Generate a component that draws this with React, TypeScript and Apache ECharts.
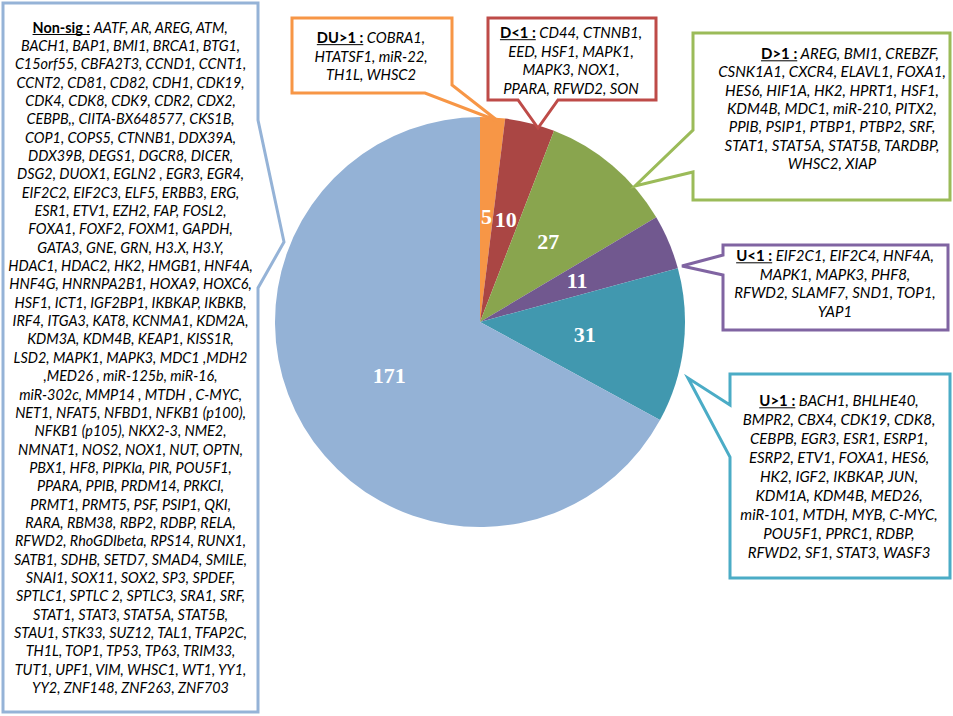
import React, { useEffect, useRef } from "react";
import * as echarts from "echarts";

// ---------- data ----------
const categories = ["DU>1", "D<1", "D>1", "U<1", "U>1", "Non-sig"];
const counts = [5, 10, 27, 11, 31, 171];
const sliceColors = ["#F79646", "#AA4644", "#89A54E", "#71588F", "#4198AF", "#94B2D6"];
const boxColors = ["#F79646", "#BE4B48", "#9BBB59", "#8064A2", "#4BACC6", "#95B3D7"];

const duUpLines = [" COBRA1,", "HTATSF1, miR-22,", "TH1L, WHSC2"];
const dDownLines = [" CD44, CTNNB1,", "EED, HSF1, MAPK1,", "MAPK3, NOX1,", "PPARA, RFWD2, SON"];
const dUpLines = [
  " AREG, BMI1, CREBZF,",
  "CSNK1A1, CXCR4, ELAVL1, FOXA1,",
  "HES6, HIF1A, HK2, HPRT1, HSF1,",
  "KDM4B, MDC1, miR-210, PITX2,",
  "PPIB, PSIP1, PTBP1, PTBP2, SRF,",
  "STAT1, STAT5A, STAT5B, TARDBP,",
  "WHSC2, XIAP",
];
const uDownLines = [" EIF2C1, EIF2C4, HNF4A,", "MAPK1, MAPK3, PHF8,", "RFWD2, SLAMF7, SND1, TOP1,", "YAP1"];
const uUpLines = [
  " BACH1, BHLHE40,",
  "BMPR2, CBX4, CDK19, CDK8,",
  "CEBPB, EGR3, ESR1, ESRP1,",
  "ESRP2, ETV1, FOXA1, HES6,",
  "HK2, IGF2, IKBKAP, JUN,",
  "KDM1A, KDM4B, MED26,",
  "miR-101, MTDH, MYB, C-MYC,",
  "POU5F1, PPRC1, RDBP,",
  "RFWD2, SF1, STAT3, WASF3",
];
const nonSigLines = [
  " AATF, AR, AREG, ATM,",
  "BACH1, BAP1, BMI1, BRCA1, BTG1,",
  "C15orf55, CBFA2T3, CCND1, CCNT1,",
  "CCNT2, CD81, CD82, CDH1, CDK19,",
  "CDK4, CDK8, CDK9, CDR2, CDX2,",
  "CEBPB,, CIITA-BX648577, CKS1B,",
  "COP1, COPS5, CTNNB1, DDX39A,",
  "DDX39B, DEGS1, DGCR8, DICER,",
  "DSG2, DUOX1, EGLN2 , EGR3, EGR4,",
  "EIF2C2, EIF2C3, ELF5, ERBB3, ERG,",
  "ESR1, ETV1, EZH2, FAP, FOSL2,",
  "FOXA1, FOXF2, FOXM1, GAPDH,",
  "GATA3, GNE, GRN, H3.X, H3.Y,",
  "HDAC1, HDAC2, HK2, HMGB1, HNF4A,",
  "HNF4G, HNRNPA2B1, HOXA9, HOXC6,",
  "HSF1, ICT1, IGF2BP1, IKBKAP, IKBKB,",
  "IRF4, ITGA3, KAT8, KCNMA1, KDM2A,",
  "KDM3A, KDM4B, KEAP1, KISS1R,",
  "LSD2, MAPK1, MAPK3, MDC1 ,MDH2",
  ",MED26 , miR-125b, miR-16,",
  "miR-302c, MMP14 , MTDH , C-MYC,",
  "NET1, NFAT5, NFBD1, NFKB1 (p100),",
  "NFKB1 (p105), NKX2-3, NME2,",
  "NMNAT1, NOS2, NOX1, NUT, OPTN,",
  "PBX1, HF8, PIPKIa, PIR, POU5F1,",
  "PPARA, PPIB, PRDM14, PRKCI,",
  "PRMT1, PRMT5, PSF, PSIP1, QKI,",
  "RARA, RBM38, RBP2, RDBP, RELA,",
  "RFWD2, RhoGDIbeta, RPS14, RUNX1,",
  "SATB1, SDHB, SETD7, SMAD4, SMILE,",
  "SNAI1, SOX11, SOX2, SP3, SPDEF,",
  "SPTLC1, SPTLC 2, SPTLC3, SRA1, SRF,",
  "STAT1, STAT3, STAT5A, STAT5B,",
  "STAU1, STK33, SUZ12, TAL1, TFAP2C,",
  "TH1L, TOP1, TP53, TP63, TRIM33,",
  "TUT1, UPF1, VIM, WHSC1, WT1, YY1,",
  "YY2, ZNF148, ZNF263, ZNF703",
];
const geneLists = [duUpLines, dDownLines, dUpLines, uDownLines, uUpLines, nonSigLines];

// ---------- layout (callout boxes) ----------
type Layout = { cx: number; y0: number; lh: number; fs: number; dx0: number; outline: number[][] };
const layouts: Layout[] = [
  { cx: 371, y0: 37, lh: 18.5, fs: 14.7, dx0: 0, outline: [[292, 18], [452, 18], [452, 85], [498, 121], [425, 93], [292, 93]] },
  { cx: 571, y0: 32, lh: 18.7, fs: 14.8, dx0: 0, outline: [[488, 18], [656, 18], [656, 100], [558, 100], [538, 128], [518, 100], [488, 100]] },
  { cx: 832, y0: 53, lh: 18.3, fs: 15.0, dx0: 18, outline: [[693, 33], [950, 33], [950, 200], [693, 200], [693, 172], [635, 186], [693, 130]] },
  { cx: 835, y0: 255, lh: 18.6, fs: 15.0, dx0: 0, outline: [[723, 245], [948, 245], [948, 330], [723, 330], [723, 275], [682, 266], [723, 255]] },
  { cx: 839, y0: 400, lh: 19.0, fs: 15.0, dx0: 0, outline: [[730, 374], [950, 374], [950, 578], [730, 578], [730, 457], [688, 378], [730, 405]] },
  { cx: 130.5, y0: 27, lh: 18.35, fs: 14.4, dx0: 0, outline: [[3, 3], [258, 3], [258, 120], [284, 242], [258, 288], [258, 712], [3, 712]] },
];

const FONT = "Lato";
const TEXT_COLOR = "#000";

let measureCtx: CanvasRenderingContext2D | null = null;
function measure(text: string, font: string): number {
  if (!measureCtx) measureCtx = document.createElement("canvas").getContext("2d");
  if (!measureCtx) return text.length * 7;
  measureCtx.font = font;
  return measureCtx.measureText(text).width;
}

function buildGraphics() {
  const elems: any[] = [];
  categories.forEach((cat, k) => {
    const L = layouts[k];
    const fs = L.fs;
    elems.push({
      type: "polygon",
      z: 100,
      shape: { points: L.outline },
      style: { fill: "#fff", stroke: boxColors[k], lineWidth: 3, lineJoin: "miter" },
    });
    const header = cat + " :";
    geneLists[k].forEach((line, i) => {
      const y = L.y0 + i * L.lh;
      const x = L.cx + (i === 0 ? L.dx0 : 0);
      if (i === 0) {
        elems.push({
          type: "text",
          z: 101,
          x,
          y,
          style: {
            text: `{h|${header}}{g|${line}}`,
            align: "center",
            verticalAlign: "middle",
            fontFamily: FONT,
            fontSize: fs,
            fontStyle: "italic",
            fill: TEXT_COLOR,
            rich: {
              h: { fontFamily: FONT, fontSize: fs, fontWeight: "bold", fontStyle: "normal", fill: TEXT_COLOR },
              g: { fontFamily: FONT, fontSize: fs, fontStyle: "italic", fill: TEXT_COLOR },
            },
          },
        });
        const wh = measure(header, `bold ${fs}px ${FONT}`);
        const wg = measure(line, `italic ${fs}px ${FONT}`);
        const left = x - (wh + wg) / 2;
        const uy = y + fs * 0.52;
        elems.push({
          type: "line",
          z: 101,
          shape: { x1: left, y1: uy, x2: left + wh, y2: uy },
          style: { stroke: TEXT_COLOR, lineWidth: 1 },
        });
      } else {
        elems.push({
          type: "text",
          z: 101,
          x,
          y,
          style: {
            text: line,
            align: "center",
            verticalAlign: "middle",
            fontFamily: FONT,
            fontSize: fs,
            fontStyle: "italic",
            fill: TEXT_COLOR,
          },
        });
      }
    });
  });
  return elems;
}

export default function App() {
  const ref = useRef<HTMLDivElement>(null);
  useEffect(() => {
    if (!ref.current) return;
    const chart = echarts.init(ref.current, null, { renderer: "svg" });
    chart.setOption({
      animation: false,
      backgroundColor: "#ffffff",
      series: [
        {
          type: "pie",
          center: [480, 322],
          radius: [0, 205],
          startAngle: 90,
          clockwise: true,
          silent: true,
          data: categories.map((c, i) => ({
            name: c,
            value: counts[i],
            itemStyle: { color: sliceColors[i] },
          })),
          itemStyle: { borderWidth: 0 },
          label: {
            show: true,
            position: "inside",
            formatter: "{c}",
            color: "#ffffff",
            fontFamily: "Liberation Serif",
            fontWeight: "bold",
            fontSize: 22,
          },
          labelLine: { show: false },
        },
      ],
      graphic: { elements: buildGraphics() },
    });
    return () => chart.dispose();
  }, []);
  return (
    <div
      ref={ref}
      style={{ position: "absolute", left: 0, top: 0, width: 953, height: 716, background: "#fff" }}
    />
  );
}
